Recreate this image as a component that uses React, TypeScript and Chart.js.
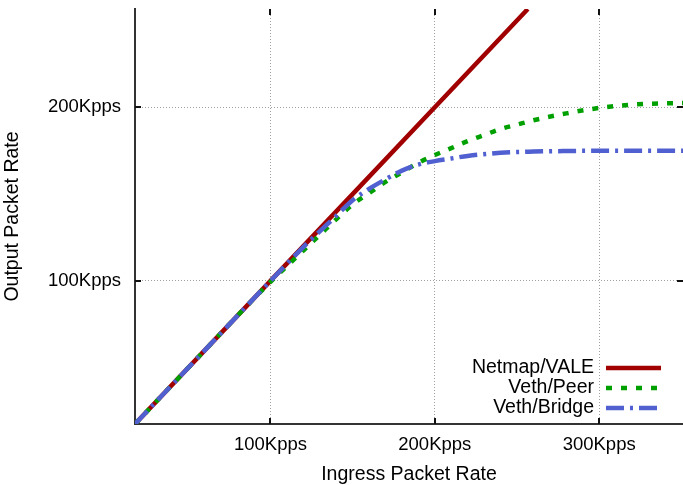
import { useEffect, useRef } from 'react';
import { Chart, registerables } from 'chart.js';

Chart.register(...registerables);

const seriesNames = ['Netmap/VALE', 'Veth/Peer', 'Veth/Bridge'];
const seriesColors = ['#a00000', '#00a000', '#5060d0'];

const netmapX = [17.6, 60, 100, 150, 200, 256.6];
const netmapY = [17.6, 60, 100, 150, 200, 256.6];

const peerX = [17.6, 40, 60, 80, 100, 110, 120, 130, 140, 150, 160, 170, 180, 190, 200, 210, 220, 230, 240, 250, 260, 280, 300, 320, 340, 351];
const peerY = [17.6, 40, 60, 80, 99.5, 108.5, 117.5, 126.5, 135.5, 144, 150.5, 157, 162.5, 168, 172.5, 176.5, 180.5, 184, 187.5, 190, 192.5, 196.5, 199.6, 201.5, 202.3, 202.4];

const bridgeX = [17.6, 40, 60, 80, 100, 120, 130, 140, 150, 160, 170, 180, 190, 200, 210, 220, 240, 260, 280, 300, 320, 340, 351];
const bridgeY = [17.6, 40, 60, 80, 100, 119.5, 128.5, 137.5, 146.5, 153, 158.5, 163.5, 167, 169, 170.5, 172, 173.8, 174.5, 174.8, 175, 175, 175, 175];

const xTicks = [100, 200, 300];
const yTicks = [100, 200];
const xTitle = 'Ingress Packet Rate';
const yTitle = 'Output Packet Rate';

const FONT = "'Liberation Sans', Arial, sans-serif";

const toPts = (xs: number[], ys: number[]) => xs.map((x, i) => ({ x, y: ys[i] }));

const decorPlugin = {
  id: 'decor',
  afterDatasetsDraw(chart: any) {
    const { ctx, chartArea: a, scales } = chart;
    const x = scales.x;
    const y = scales.y;
    ctx.save();
    ctx.strokeStyle = '#111';
    ctx.lineWidth = 2;
    ctx.setLineDash([]);
    ctx.beginPath();
    for (const v of xTicks) {
      const px = Math.round(x.getPixelForValue(v));
      ctx.moveTo(px, a.bottom);
      ctx.lineTo(px, a.bottom - 6);
      ctx.moveTo(px, a.top);
      ctx.lineTo(px, a.top + 6);
    }
    for (const v of yTicks) {
      const py = Math.round(y.getPixelForValue(v));
      ctx.moveTo(a.left, py);
      ctx.lineTo(a.left + 6, py);
      ctx.moveTo(a.right, py);
      ctx.lineTo(a.right - 6, py);
    }
    ctx.stroke();

    // legend (inside bottom-right of plot)
    const ds = chart.data.datasets;
    const textRight = a.right - 89;
    const sx1 = a.right - 77;
    const sx2 = a.right - 22;
    ctx.font = `19.5px ${FONT}`;
    ctx.textAlign = 'right';
    ctx.textBaseline = 'middle';
    ds.forEach((d: any, i: number) => {
      const ry = a.bottom - 56 + i * 20;
      ctx.fillStyle = '#000';
      ctx.fillText(d.label, textRight, ry);
      ctx.strokeStyle = d.borderColor;
      ctx.lineWidth = d.borderWidth;
      ctx.lineCap = 'butt';
      ctx.setLineDash(d.borderDash || []);
      ctx.beginPath();
      ctx.moveTo(sx1, ry);
      ctx.lineTo(sx2, ry);
      ctx.stroke();
    });
    ctx.restore();
  },
};

export default function App() {
  const ref = useRef<HTMLCanvasElement | null>(null);

  useEffect(() => {
    if (!ref.current) return;
    const chart = new Chart(ref.current, {
      type: 'line',
      data: {
        datasets: [
          {
            label: seriesNames[0],
            data: toPts(netmapX, netmapY),
            borderColor: seriesColors[0],
            borderWidth: 4.5,
            pointRadius: 0,
            order: 3,
          },
          {
            label: seriesNames[1],
            data: toPts(peerX, peerY),
            borderColor: seriesColors[1],
            borderWidth: 4.5,
            borderDash: [6, 9],
            pointRadius: 0,
            cubicInterpolationMode: 'monotone',
            order: 2,
          },
          {
            label: seriesNames[2],
            data: toPts(bridgeX, bridgeY),
            borderColor: seriesColors[2],
            borderWidth: 4.5,
            borderDash: [18, 6, 3, 6],
            pointRadius: 0,
            cubicInterpolationMode: 'monotone',
            order: 1,
          },
        ] as any,
      },
      options: {
        animation: false,
        responsive: false,
        maintainAspectRatio: false,
        layout: { padding: { top: 9, left: 0, right: 0, bottom: 0 }, autoPadding: false },
        plugins: { legend: { display: false }, tooltip: { enabled: false } },
        scales: {
          x: {
            type: 'linear',
            min: 17.6,
            max: 351,
            afterBuildTicks: (s: any) => {
              s.ticks = xTicks.map((v) => ({ value: v }));
            },
            afterFit: (s: any) => {
              s.height = 61;
              s.paddingLeft = 0;
              s.paddingRight = 0;
            },
            ticks: {
              autoSkip: false,
              maxRotation: 0,
              padding: 10,
              color: '#000',
              font: { family: FONT, size: 18.5 },
              callback: (v: any) => `${v}Kpps`,
            },
            grid: { color: '#a0a0a0', lineWidth: 1, drawTicks: false },
            border: { display: true, color: '#333', width: 2, dash: [1, 2] },
            title: {
              display: true,
              text: xTitle,
              color: '#000',
              font: { family: FONT, size: 19.5, lineHeight: 1 },
              padding: { top: 0, bottom: 0.3 },
            },
          },
          y: {
            type: 'linear',
            min: 17.6,
            max: 256.6,
            afterBuildTicks: (s: any) => {
              s.ticks = yTicks.map((v) => ({ value: v }));
            },
            afterFit: (s: any) => {
              s.width = 135;
              s.paddingTop = 0;
              s.paddingBottom = 0;
            },
            ticks: {
              autoSkip: false,
              padding: 14,
              color: '#000',
              font: { family: FONT, size: 18.5 },
              callback: (v: any) => `${v}Kpps`,
            },
            grid: { color: '#a0a0a0', lineWidth: 1, drawTicks: false },
            border: { display: true, color: '#333', width: 2, dash: [1, 2] },
            title: {
              display: true,
              text: yTitle,
              color: '#000',
              font: { family: FONT, size: 19.5, lineHeight: 1 },
              padding: { top: 3, bottom: 0 },
            },
          },
        },
      } as any,
      plugins: [decorPlugin],
    });
    return () => chart.destroy();
  }, []);

  return (
    <div style={{ position: 'absolute', left: 0, top: 0, width: 683, height: 485, background: '#fff' }}>
      <canvas ref={ref} width={683} height={485} style={{ display: 'block', width: 683, height: 485 }} />
    </div>
  );
}
